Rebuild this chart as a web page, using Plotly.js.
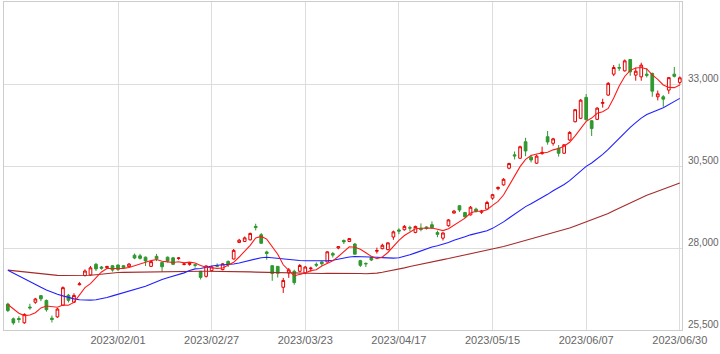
<!DOCTYPE html>
<html>
<head>
<meta charset="utf-8">
<script src="https://cdn.plot.ly/plotly-3.0.1.min.js"></script>
<style>html,body{margin:0;padding:0;background:#fff;}#chart{width:720px;height:354px;}</style>
</head>
<body>
<div id="chart"></div>
<script>
var dates = ['2022/12/30',
'2023/01/04','2023/01/05','2023/01/06','2023/01/10','2023/01/11','2023/01/12','2023/01/13','2023/01/16','2023/01/17','2023/01/18','2023/01/19','2023/01/20','2023/01/23','2023/01/24','2023/01/25','2023/01/26','2023/01/27','2023/01/30','2023/01/31',
'2023/02/01','2023/02/02','2023/02/03','2023/02/06','2023/02/07','2023/02/08','2023/02/09','2023/02/10','2023/02/13','2023/02/14','2023/02/15','2023/02/16','2023/02/17','2023/02/20','2023/02/21','2023/02/22','2023/02/24','2023/02/27','2023/02/28',
'2023/03/01','2023/03/02','2023/03/03','2023/03/06','2023/03/07','2023/03/08','2023/03/09','2023/03/10','2023/03/13','2023/03/14','2023/03/15','2023/03/16','2023/03/17','2023/03/20','2023/03/22','2023/03/23','2023/03/24','2023/03/27','2023/03/28','2023/03/29','2023/03/30','2023/03/31',
'2023/04/03','2023/04/04','2023/04/05','2023/04/06','2023/04/07','2023/04/10','2023/04/11','2023/04/12','2023/04/13','2023/04/14','2023/04/17','2023/04/18','2023/04/19','2023/04/20','2023/04/21','2023/04/24','2023/04/25','2023/04/26','2023/04/27','2023/04/28',
'2023/05/01','2023/05/02','2023/05/08','2023/05/09','2023/05/10','2023/05/11','2023/05/12','2023/05/15','2023/05/16','2023/05/17','2023/05/18','2023/05/19','2023/05/22','2023/05/23','2023/05/24','2023/05/25','2023/05/26','2023/05/29','2023/05/30','2023/05/31',
'2023/06/01','2023/06/02','2023/06/05','2023/06/06','2023/06/07','2023/06/08','2023/06/09','2023/06/12','2023/06/13','2023/06/14','2023/06/15','2023/06/16','2023/06/19','2023/06/20','2023/06/21','2023/06/22','2023/06/23','2023/06/26','2023/06/27','2023/06/28','2023/06/29','2023/06/30'];

var openP = [26290,25840,25850,25720,26200,26346,26548,26400,25860,25900,26255,26560,26346,26880,27160,27180,27502,27420,27400,27460,
27480,27460,27430,27780,27760,27720,27440,27745,27560,27720,27700,27680,27500,27500,27490,27290,27136,27310,27460,
27340,27590,27665,28170,28200,28250,28660,28405,27880,27460,27440,26802,27240,27290,27290,27240,27370,27500,27575,27574,27830,28000,
28230,28200,28120,27614,27530,27715,27900,27980,27950,28335,28550,28557,28620,28475,28600,28640,28710,28470,28300,28680,
29065,29290,29080,29010,29185,29090,29186,29520,29810,29925,30432,30840,30737,31240,30770,30585,30880,31393,31193,31041,
30889,31293,31850,31953,32592,31880,31923,32410,32662,33300,33500,33401,33747,33270,33219,33300,33320,32610,32610,32814,33300,33050];

var highP = [26330,25880,25920,26010,26300,26480,26560,26430,25940,26170,26830,26600,26620,26960,27350,27450,27545,27450,27460,27480,
27500,27480,27540,27830,27820,27740,27600,27820,27580,27740,27720,27720,27560,27560,27520,27300,27470,27440,27530,
27540,27620,27970,28280,28350,28470,28740,28456,27918,27480,27450,27088,27390,27340,27510,27450,27430,27560,27600,27900,27880,28060,
28260,28300,28150,27640,27560,27740,28010,28130,28170,28530,28600,28700,28680,28680,28750,28660,28810,28530,28480,28880,
29160,29300,29100,29280,29230,29160,29440,29650,29880,30130,30600,30940,31120,31360,30840,30850,31090,31567,31360,31140,
31160,31560,32230,32540,32693,31900,32290,32550,33060,33580,33620,33748,33760,33500,33650,33480,33350,32800,32660,33200,33520,33230];

var lowP = [26045,25660,25720,25690,26120,26300,26380,26060,25730,25870,26230,26340,26330,26860,27130,27150,27300,27340,27360,27280,
27300,27370,27400,27660,27650,27450,27420,27600,27270,27560,27480,27640,27470,27460,27400,27040,27100,27290,27420,
27320,27420,27650,28150,28180,28230,28535,28130,27644,27000,27100,26630,27090,26880,27260,27200,27280,27420,27460,27560,27710,27960,
28120,28180,27800,27420,27420,27600,27830,27960,27930,28250,28420,28530,28510,28450,28510,28560,28580,28330,28230,28650,
29050,29100,28920,28990,29080,29040,29160,29470,29760,29900,30400,30700,30720,30800,30610,30560,30840,31150,31120,30786,
30870,31270,31830,31930,31880,31415,31900,32280,32640,33240,33400,33380,33250,33100,33100,33200,32610,32500,32306,32700,33200,32980];

var closeP = [26094,25717,25821,25974,26176,26446,26450,26120,25822,26139,26791,26405,26554,26906,27299,27395,27363,27383,27433,27327,
27347,27402,27509,27694,27685,27606,27584,27671,27427,27603,27502,27696,27513,27532,27473,27104,27453,27424,27446,
27517,27499,27927,28238,28309,28444,28623,28144,27833,27222,27229,27011,27334,26946,27467,27420,27385,27477,27518,27884,27783,28041,
28188,28287,27813,27473,27518,27634,27923,28083,28157,28493,28515,28659,28607,28658,28564,28594,28620,28416,28458,28856,
29123,29158,28950,29243,29122,29127,29388,29626,29843,30094,30574,30808,31087,30958,30683,30801,30916,31234,31328,30888,
31148,31524,32217,32507,31914,31641,32265,32434,33019,33502,33485,33706,33370,33389,33575,33265,32782,32699,32538,33194,33234,33189];

var ma5 = [26276,26138,26013,25940,25956,26027,26173,26233,26203,26195,26264,26255,26342,26559,26791,26912,27103,27269,27375,27380,
27371,27378,27404,27456,27527,27579,27616,27648,27595,27578,27557,27580,27548,27569,27543,27464,27415,27397,27380,
27389,27468,27563,27725,27898,28083,28308,28352,28271,28053,27810,27488,27326,27148,27197,27236,27310,27339,27453,27537,27609,27741,
27883,28037,28022,27960,27856,27745,27672,27726,27863,28058,28234,28381,28486,28586,28601,28616,28609,28570,28530,28589,
28695,28802,28909,29066,29119,29120,29166,29301,29421,29616,29905,30189,30481,30704,30822,30867,30889,30918,30992,31033,
31103,31224,31421,31657,31862,31961,32109,32152,32255,32572,32941,33229,33416,33490,33505,33461,33276,33142,32972,32896,32889,32971];

var ma25 = [27319,27230,27140,27050,26960,26880,26800,26720,26650,26590,26540,26490,26450,26420,26410,26410,26420,26450,26490,26540,
26590,26640,26680,26720,26770,26831,26905,26979,27037,27094,27137,27187,27242,27311,27364,27377,27418,27453,27475,
27484,27488,27510,27544,27580,27624,27675,27705,27718,27699,27681,27657,27647,27618,27620,27612,27608,27599,27599,27613,27625,27663,
27692,27727,27742,27740,27741,27729,27716,27707,27696,27691,27705,27738,27794,27851,27913,27963,28030,28068,28110,28169,
28235,28300,28343,28401,28444,28482,28526,28599,28693,28796,28914,29029,29150,29262,29349,29441,29531,29636,29743,29836,
29938,30054,30206,30368,30490,30591,30715,30855,31006,31181,31355,31528,31678,31820,31959,32067,32146,32210,32273,32374,32471,32562];

var ma75 = [27325,27305,27285,27265,27245,27225,27205,27185,27175,27165,27160,27158,27158,27158,27160,27170,27185,27205,27225,27245,
27252,27256,27260,27264,27267,27270,27273,27276,27279,27283,27286,27289,27289,27289,27289,27289,27289,27289,27289,
27289,27289,27289,27283,27278,27272,27266,27261,27255,27250,27244,27238,27232,27227,27221,27218,27218,27220,27222,27225,27228,27231,
27233,27234,27230,27222,27215,27215,27235,27260,27290,27325,27360,27395,27435,27474,27507,27545,27583,27615,27646,27678,
27713,27754,27796,27837,27868,27904,27942,27979,28012,28048,28091,28137,28185,28234,28278,28323,28369,28416,28465,28508,
28556,28607,28671,28737,28796,28848,28912,28977,29051,29136,29217,29300,29379,29458,29539,29610,29670,29729,29784,29845,29913,29984];

var xTicks = ['2023/02/01','2023/02/27','2023/03/23','2023/04/17','2023/05/15','2023/06/07','2023/06/30'];
var yTicks = [25500,28000,30500,33000];
var yTickText = ['25,500','28,000','30,500','33,000'];

var xFont = {family:'"Liberation Sans", Arial, sans-serif', size:11, color:'#666666'};
var yFont = {family:'"Liberation Sans", Arial, sans-serif', size:10, color:'#666666'};

var traces = [
  {type:'candlestick', x:dates, open:openP, high:highP, low:lowP, close:closeP,
   increasing:{line:{color:'#e60000', width:1}, fillcolor:'#ffffff'},
   decreasing:{line:{color:'#2f982f', width:1}, fillcolor:'#2f982f'},
   whiskerwidth:0, hoverinfo:'skip', showlegend:false},
  {type:'scatter', mode:'lines', x:dates, y:ma75, line:{color:'#a52a2a', width:1.1}, hoverinfo:'skip', showlegend:false},
  {type:'scatter', mode:'lines', x:dates, y:ma25, line:{color:'#2020ff', width:1.1}, hoverinfo:'skip', showlegend:false},
  {type:'scatter', mode:'lines', x:dates, y:ma5, line:{color:'#ff1a1a', width:1.1}, hoverinfo:'skip', showlegend:false}
];

var layout = {
  width:720, height:354,
  margin:{l:4, r:38, t:2, b:24, pad:0},
  paper_bgcolor:'#ffffff', plot_bgcolor:'#ffffff',
  showlegend:false,
  xaxis:{type:'category', range:[-0.7, 122.4], tickmode:'array', tickvals:xTicks, ticktext:xTicks,
    showgrid:true, gridcolor:'#dddddd', gridwidth:1, ticks:'', showline:true, mirror:true, linecolor:'#cccccc', linewidth:1,
    rangeslider:{visible:false}, tickfont:xFont, zeroline:false, fixedrange:true},
  yaxis:{side:'right', range:[25500, 35500], tickmode:'array', tickvals:yTicks, ticktext:yTickText,
    showgrid:true, gridcolor:'#dddddd', gridwidth:1, ticks:'', showline:true, mirror:true, linecolor:'#cccccc', linewidth:1,
    ticklabelshift:-6, ticklabelstandoff:3, tickfont:yFont, zeroline:false, fixedrange:true}
};

Plotly.newPlot('chart', traces, layout, {displayModeBar:false, staticPlot:true});
</script>
</body>
</html>
